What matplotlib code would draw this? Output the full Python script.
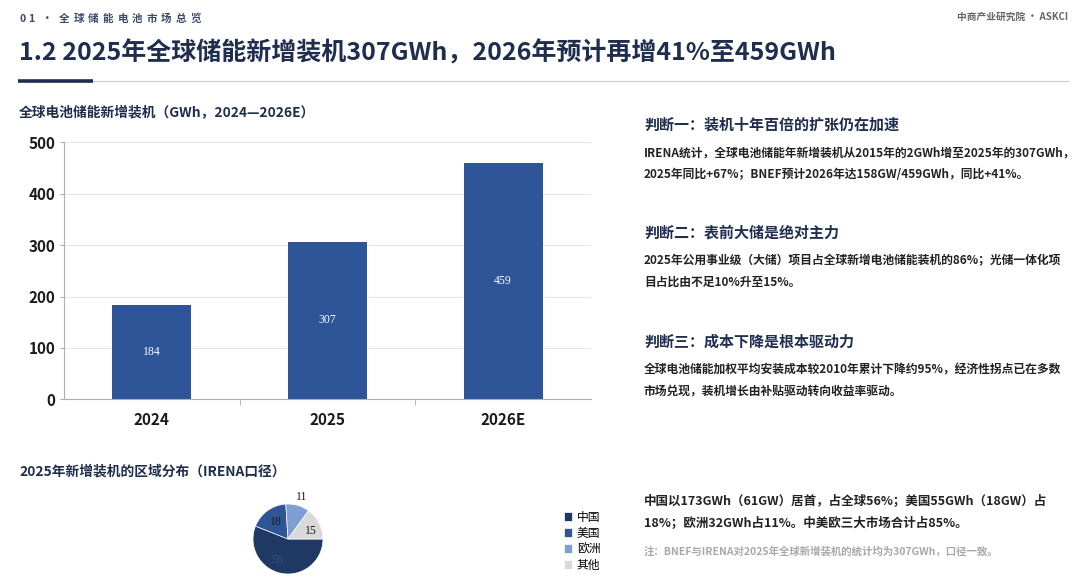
import matplotlib
matplotlib.use('Agg')
import matplotlib.pyplot as plt
from matplotlib.lines import Line2D

plt.rcParams['font.family'] = ['Noto Sans CJK SC', 'DejaVu Sans']

# bar data
years = ['2024', '2025', '2026E']
installs = [184, 307, 459]
y_ticks = [0, 100, 200, 300, 400, 500]

# pie data
regions = ['中国', '美国', '欧洲', '其他']
shares = [56, 18, 11, 15]
pie_colors = ['#1f3864', '#2f5597', '#7f9fd4', '#d9d9d9']

NAVY = '#1f2d4e'
BAR = '#2d5597'
W, H = 1080, 579

fig = plt.figure(figsize=(10.8, 5.79), dpi=100)
fig.patch.set_facecolor('white')


def fx(px):
    return px / W


def fy(py):
    return 1 - py / H


# header, letter-spaced section label
sec_chars = ['0', '1', '·'] + list('全球储能电池市场总览')
sec_x = [19, 28.5, 41] + [59 + 14.6 * i for i in range(10)]
for ch, cx in zip(sec_chars, sec_x):
    fig.text(fx(cx), fy(19), ch, fontsize=7.6, color='#3b4a6b',
             fontweight='bold', va='center')
fig.text(fx(1068), fy(17), '中商产业研究院 · ASKCI', fontsize=7, color='#666666',
         fontweight='bold', va='center', ha='right')
fig.text(fx(19), fy(53), '1.2 2025年全球储能新增装机307GWh，2026年预计再增41%至459GWh',
         fontsize=18, color=NAVY, fontweight='bold', va='center')
fig.add_artist(Line2D([fx(18), fx(1068)], [fy(80.5), fy(80.5)], color='#cfcfcf', lw=0.9))
fig.add_artist(Line2D([fx(18), fx(93)], [fy(80.5), fy(80.5)], color=NAVY, lw=2.6,
                      solid_capstyle='butt'))

# bar chart
fig.text(fx(19), fy(113), '全球电池储能新增装机（GWh，2024—2026E）', fontsize=9.9,
         color=NAVY, fontweight='bold', va='center')
ax = fig.add_axes([fx(64), fy(399.3), fx(591) - fx(64), fy(142.3) - fy(399.3)])
x = range(len(years))
bars = ax.bar(x, installs, width=0.45, color=BAR, zorder=2)
for b, v in zip(bars, installs):
    ax.text(b.get_x() + b.get_width() / 2, v / 2, str(v), ha='center', va='center',
            color='white', fontsize=8.5, family='Liberation Serif')
ax.set_xlim(-0.5, len(years) - 0.5)
ax.set_ylim(0, 500)
ax.set_yticks(y_ticks)
ax.set_yticklabels([str(t) for t in y_ticks], fontsize=11, fontweight='bold', color='#1a1a1a')
ax.set_xticks(list(x))
ax.set_xticklabels(years, fontsize=11, fontweight='bold', color='#1a1a1a')
ax.set_xticks([0.5, 1.5], minor=True)
ax.tick_params(axis='x', which='major', length=0, pad=9)
ax.tick_params(axis='x', which='minor', length=4, color='#b0b0b0')
ax.tick_params(axis='y', length=3, color='#b0b0b0', pad=3)
ax.grid(axis='y', color='#e6e6e6', lw=0.8, zorder=0)
for s in ['top', 'right']:
    ax.spines[s].set_visible(False)
ax.spines['left'].set_color('#b0b0b0')
ax.spines['bottom'].set_color('#b0b0b0')

# pie chart
fig.text(fx(19), fy(472), '2025年新增装机的区域分布（IRENA口径）', fontsize=9.9,
         color=NAVY, fontweight='bold', va='center')
r = 35
pax = fig.add_axes([fx(288 - r), fy(539 + r), fx(2 * r), fy(539 - r) - fy(539 + r)])
wedges, _ = pax.pie(shares, colors=pie_colors, startangle=0, counterclock=False,
                    wedgeprops=dict(linewidth=0.5, edgecolor='white'))
pax.set_xlim(-1, 1)
pax.set_ylim(-1, 1)
pax.set_aspect('equal')
label_pos = [(-0.31, -0.6), (-0.34, 0.49), (0.4, 1.2), (0.66, 0.23)]
label_colors = ['#3a4e78', '#1a1a1a', '#1a1a1a', '#1a1a1a']
for v, (lx, ly), c in zip(shares, label_pos, label_colors):
    pax.text(lx, ly, str(v), ha='center', va='center', fontsize=8.5,
             family='Liberation Serif', color=c, clip_on=False)

fig.legend(wedges, regions, loc='upper left', bbox_to_anchor=(fx(559), fy(506)),
           frameon=False, fontsize=8.5, handlelength=0.7, handleheight=0.7,
           handletextpad=0.4, labelspacing=0.25, borderaxespad=0)

# right-hand text
heads = ['判断一：装机十年百倍的扩张仍在加速',
         '判断二：表前大储是绝对主力',
         '判断三：成本下降是根本驱动力']
head_y = [125, 233, 342]
bodies = [['IRENA统计，全球电池储能年新增装机从2015年的2GWh增至2025年的307GWh，',
           '2025年同比+67%；BNEF预计2026年达158GW/459GWh，同比+41%。'],
          ['2025年公用事业级（大储）项目占全球新增电池储能装机的86%；光储一体化项',
           '目占比由不足10%升至15%。'],
          ['全球电池储能加权平均安装成本较2010年累计下降约95%，经济性拐点已在多数',
           '市场兑现，装机增长由补贴驱动转向收益率驱动。']]
for h, hy, body in zip(heads, head_y, bodies):
    fig.text(fx(644), fy(hy), h, fontsize=10.8, color=NAVY, fontweight='bold', va='center')
    for i, line in enumerate(body):
        fig.text(fx(644), fy(hy + 28 + i * 21.5), line, fontsize=8.5, color='#222222',
                 fontweight='bold', va='center')

fig.text(fx(644), fy(501), '中国以173GWh（61GW）居首，占全球56%；美国55GWh（18GW）占',
         fontsize=9, color='#222222', fontweight='bold', va='center')
fig.text(fx(644), fy(523), '18%；欧洲32GWh占11%。中美欧三大市场合计占85%。',
         fontsize=9, color='#222222', fontweight='bold', va='center')
fig.text(fx(644), fy(551), '注：BNEF与IRENA对2025年全球新增装机的统计均为307GWh，口径一致。',
         fontsize=7.5, color='#a8a8a8', fontweight='bold', va='center')

fig.savefig('out.png', dpi=100)
